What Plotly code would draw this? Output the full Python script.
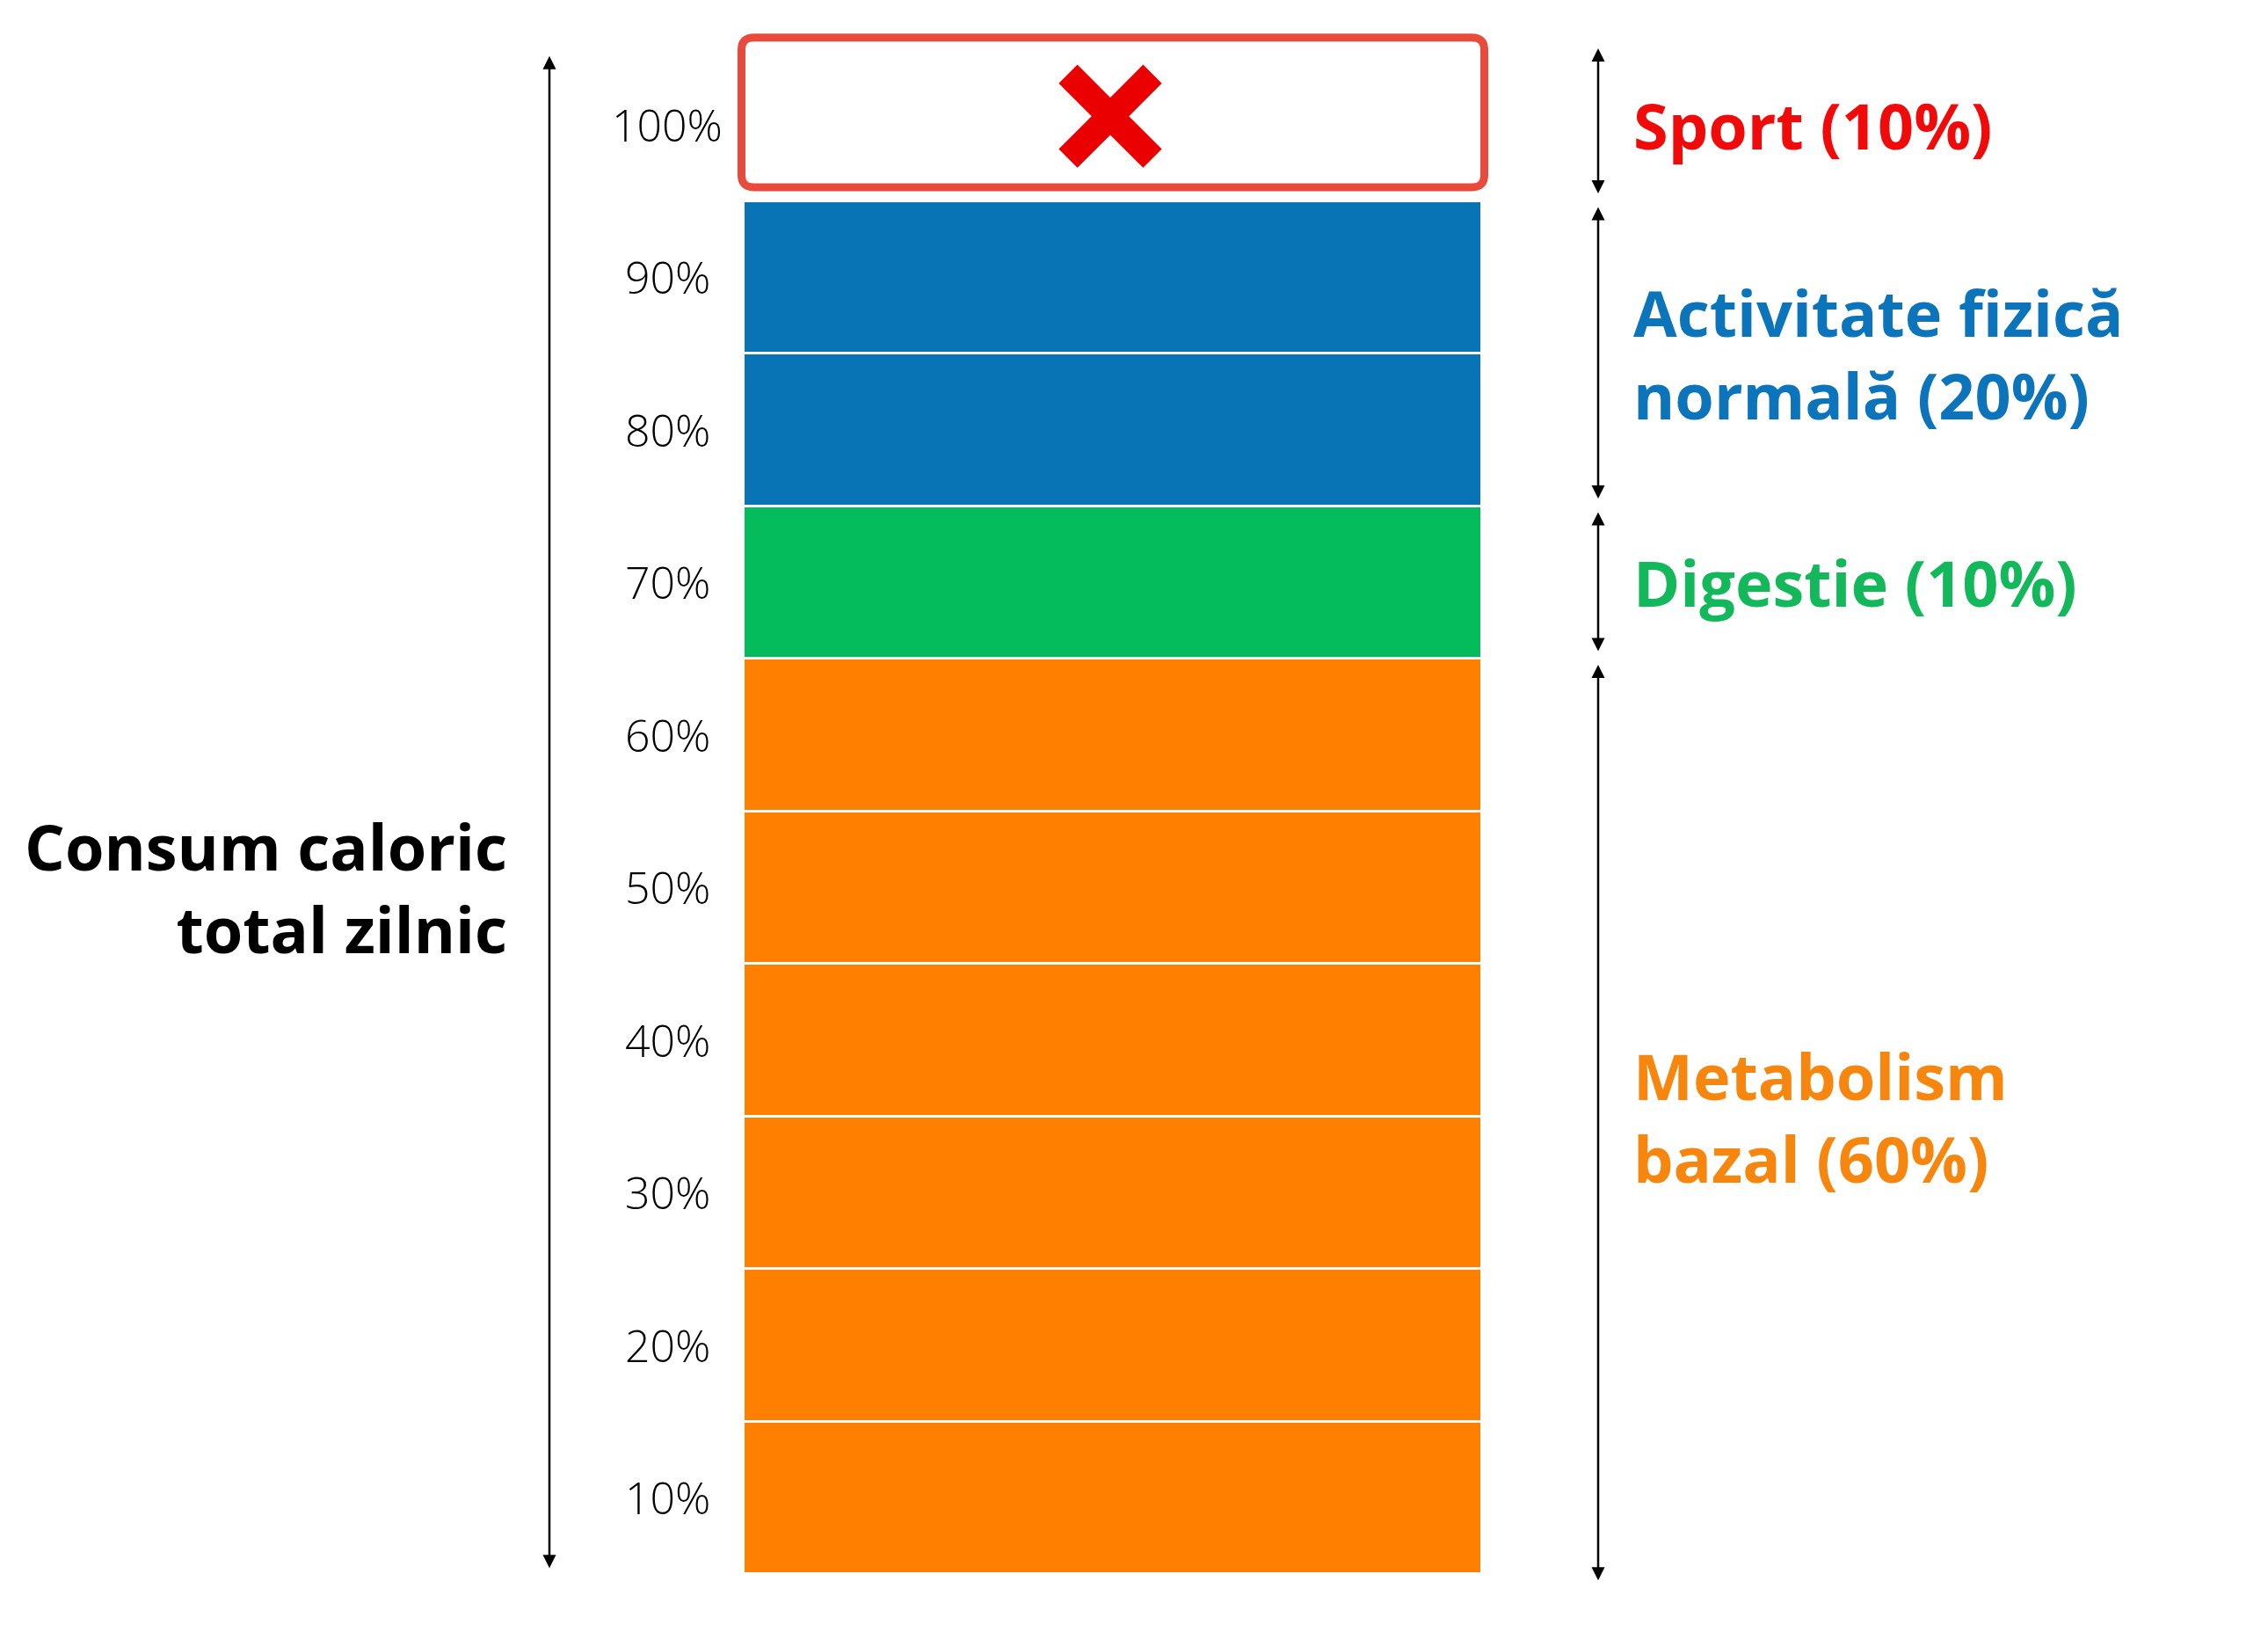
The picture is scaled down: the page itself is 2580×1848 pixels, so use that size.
import plotly.graph_objects as go

# ---- data ----
categories = ["Metabolism bazal", "Digestie", "Activitate fizică normală", "Sport"]
shares = [60, 10, 20, 10]
label_texts = ["Metabolism<br>bazal (60%)", "Digestie (10%)",
               "Activitate fizică<br>normală (20%)", "Sport (10%)"]
block_size = 10
tick_labels = ["10%", "20%", "30%", "40%", "50%", "60%", "70%", "80%", "90%", "100%"]
total_title = "Consum caloric<br>total zilnic"

# ---- style ----
bar_colors = ["#FF7F00", "#05BC5C", "#0874B5", "#FFFFFF"]
text_colors = ["#F7860F", "#12B85A", "#0C74BA", "#F00A0A"]
box_color = "#E84B3C"
x_color = "#EA0000"

W, H = 2580, 1848
OFF = 8  # default page body margin
bar_left_px, bar_right_px = 846 - OFF, 1686 - OFF
unit_px = bar_right_px - bar_left_px
center_px = (bar_left_px + bar_right_px) / 2


def xv(px):
    return (px - OFF - center_px) / unit_px


# cumulative segments
starts, ends = [], []
acc = 0
for s in shares:
    starts.append(acc)
    acc += s
    ends.append(acc)

# blocks for filled categories (all except the crossed-out one)
bx, by, bbase, bcol = [], [], [], []
for i, cat in enumerate(categories[:-1]):
    v = starts[i]
    while v < ends[i]:
        bx.append(0)
        by.append(block_size)
        bbase.append(v)
        bcol.append(bar_colors[i])
        v += block_size

fig = go.Figure()
fig.add_trace(go.Bar(
    x=bx, y=by, base=bbase, width=1.0,
    marker=dict(color=bcol, line=dict(color="white", width=3)),
    hoverinfo="skip", showlegend=False,
))

# crossed-out sport block: rounded box + X
s0, s1 = starts[-1], ends[-1]
x0, x1 = -0.503, 0.503
y0, y1 = s0 + 0.9, s1 + 0.7
rx, ry = 14 / unit_px, 0.8
path = (f"M{x0+rx},{y0} L{x1-rx},{y0} Q{x1},{y0} {x1},{y0+ry} "
        f"L{x1},{y1-ry} Q{x1},{y1} {x1-rx},{y1} L{x0+rx},{y1} "
        f"Q{x0},{y1} {x0},{y1-ry} L{x0},{y0+ry} Q{x0},{y0} {x0+rx},{y0} Z")
fig.add_shape(type="path", path=path, xref="x", yref="y",
              line=dict(color=box_color, width=9), fillcolor="white", layer="below")

fig.add_trace(go.Scatter(
    x=[xv(1263)], y=[(s0 + s1) / 2 + 0.55], mode="markers",
    marker=dict(symbol="x-thin", size=96, color=x_color,
                line=dict(width=30, color=x_color)),
    hoverinfo="skip", showlegend=False,
))

annotations = []
# tick labels (centered)
for k, t in enumerate(tick_labels):
    annotations.append(dict(
        x=xv(759), y=k * block_size + block_size / 2, xref="x", yref="y",
        text=t, showarrow=False, xanchor="center", yanchor="middle",
        font=dict(family="Open Sans", size=50, color="#000000", weight=300),
    ))

# left total arrow
annotations.append(dict(
    x=xv(625), y=acc - 0.5, ax=xv(625), ay=0.3, xref="x", yref="y",
    axref="x", ayref="y", text="", showarrow=True, arrowhead=2,
    arrowside="end+start", arrowsize=1.2, arrowwidth=2.5, arrowcolor="#000000",
    standoff=0, startstandoff=0,
))
annotations.append(dict(
    x=xv(579), y=45, xref="x", yref="y", text=total_title, showarrow=False,
    xanchor="right", yanchor="middle", align="right",
    font=dict(family="Open Sans", size=72, color="#000000", weight="bold"),
))

# right category arrows and labels
for i in range(len(categories)):
    lo = starts[i] + 0.4 if starts[i] > 0 else starts[i] - 0.5
    hi = ends[i] - 0.4 if ends[i] < acc else ends[i]
    annotations.append(dict(
        x=xv(1818), y=hi, ax=xv(1818), ay=lo, xref="x", yref="y",
        axref="x", ayref="y", text="", showarrow=True, arrowhead=2,
        arrowside="end+start", arrowsize=1.2, arrowwidth=2.5, arrowcolor="#000000",
        standoff=0, startstandoff=0,
    ))
    annotations.append(dict(
        x=xv(1856), y=(starts[i] + ends[i]) / 2, xref="x", yref="y",
        text=label_texts[i], showarrow=False, xanchor="left", yanchor="middle",
        align="left",
        font=dict(family="Open Sans", size=72, color=text_colors[i], weight="bold"),
    ))

y_bottom_px = 1790 - OFF
px_per_val = 17.35
top_val = (y_bottom_px - 4) / px_per_val
bot_val = -(H - 57 - y_bottom_px) / px_per_val

fig.update_layout(
    width=W, height=H,
    margin=dict(l=0, r=0, t=4, b=57),
    paper_bgcolor="white", plot_bgcolor="white",
    xaxis=dict(range=[xv(OFF), xv(W + OFF)], visible=False, fixedrange=True),
    yaxis=dict(range=[bot_val, top_val], visible=False, fixedrange=True),
    annotations=annotations,
    bargap=0,
)

fig.write_html("out.html")
